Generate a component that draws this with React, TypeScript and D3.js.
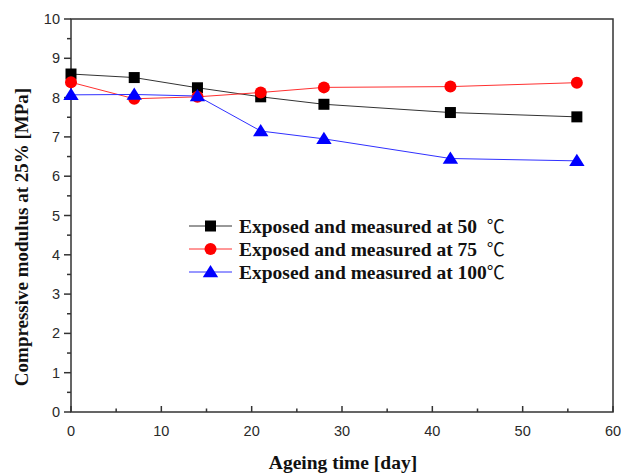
import React from "react";
import * as d3 from "d3";

const days = [0, 7, 14, 21, 28, 42, 56];
const s50 = [8.6, 8.51, 8.25, 8.02, 7.83, 7.62, 7.51];
const s75 = [8.39, 7.97, 8.02, 8.13, 8.26, 8.28, 8.38];
const s100 = [8.07, 8.08, 8.04, 7.15, 6.95, 6.45, 6.39];
const seriesNames = [
  "Exposed and measured at 50  \u2103",
  "Exposed and measured at 75  \u2103",
  "Exposed and measured at 100\u2103",
];
const xTicks = [0, 10, 20, 30, 40, 50, 60];
const yTicks = [0, 1, 2, 3, 4, 5, 6, 7, 8, 9, 10];

const W = 621, H = 474;
const L = 71, R = 613, T = 19, B = 412;

export default function App() {
  const x = d3.scaleLinear().domain([0, 60]).range([L, R]);
  const y = d3.scaleLinear().domain([0, 10]).range([B, T]);
  const line = d3.line<number>().x((_, i) => x(days[i])).y((v) => y(v));
  const series = [
    { vals: s50, color: "#000000", line: "#333333", shape: "square" },
    { vals: s75, color: "#ff0000", line: "#ff3030", shape: "circle" },
    { vals: s100, color: "#0000ff", line: "#3030ff", shape: "triangle" },
  ];
  const marker = (shape: string, cx: number, cy: number, color: string, key: string) => {
    if (shape === "square") return <rect key={key} x={cx - 5.5} y={cy - 5.5} width={11} height={11} fill={color} />;
    if (shape === "circle") return <circle key={key} cx={cx} cy={cy} r={6} fill={color} />;
    const s = 7;
    return <path key={key} d={`M${cx},${cy - s}L${cx + s * 1.1},${cy + s * 0.75}L${cx - s * 1.1},${cy + s * 0.75}Z`} fill={color} />;
  };
  const minorX = d3.range(5, 60, 10);
  const minorY = d3.range(0.5, 10, 1);
  const legendY = [226, 249, 272];
  const serif = "Liberation Serif, Times New Roman, serif";
  return (
    <svg width={W} height={H} style={{ position: "absolute", left: 0, top: 0, background: "#fff" }}>
      <rect x={0} y={0} width={W} height={H} fill="#fff" />
      <rect x={L} y={T} width={R - L} height={B - T} fill="none" stroke="#333" strokeWidth={1.5} />
      {xTicks.map((t) => (
        <g key={"xt" + t}>
          <line x1={x(t)} x2={x(t)} y1={B} y2={B - 6} stroke="#333" strokeWidth={1.5} />
          <text x={x(t)} y={B + 24} textAnchor="middle" fontFamily="Liberation Sans, Arial, sans-serif" fontSize={14.5} fill="#2a2a2a">{t}</text>
        </g>
      ))}
      {minorX.map((t) => (
        <line key={"xm" + t} x1={x(t)} x2={x(t)} y1={B} y2={B - 3.5} stroke="#333" strokeWidth={1.5} />
      ))}
      {yTicks.map((t) => (
        <g key={"yt" + t}>
          <line x1={L} x2={L - 7} y1={y(t)} y2={y(t)} stroke="#333" strokeWidth={1.5} />
          <text x={L - 11} y={y(t) + 5} textAnchor="end" fontFamily="Liberation Sans, Arial, sans-serif" fontSize={14.5} fill="#2a2a2a">{t}</text>
        </g>
      ))}
      {minorY.map((t) => (
        <line key={"ym" + t} x1={L} x2={L - 4} y1={y(t)} y2={y(t)} stroke="#333" strokeWidth={1.5} />
      ))}
      {series.map((s, si) => (
        <g key={"s" + si}>
          <path d={line(s.vals) || ""} fill="none" stroke={s.line} strokeWidth={1} />
          {s.vals.map((v, i) => marker(s.shape, x(days[i]), y(v), s.color, `m${si}-${i}`))}
        </g>
      ))}
      {series.map((s, si) => {
        const parts = seriesNames[si].split("\u2103");
        return (
          <g key={"lg" + si}>
            <line x1={189} x2={232} y1={legendY[si]} y2={legendY[si]} stroke={s.line} strokeWidth={1} />
            {marker(s.shape, 210.5, legendY[si], s.color, "lm" + si)}
            <text x={239} y={legendY[si] + 6.5} fontFamily={serif} fontWeight="bold" fontSize={19.5} fill="#111" style={{ whiteSpace: "pre" }}>
              {parts[0]}
              <tspan fontWeight="normal" fontFamily="Noto Sans CJK SC, sans-serif" fontSize={18}>{"\u2103"}</tspan>
            </text>
          </g>
        );
      })}
      <text x={343} y={469} textAnchor="middle" fontFamily={serif} fontWeight="bold" fontSize={19.5} fill="#111">Ageing time [day]</text>
      <text transform={`translate(28,237) rotate(-90)`} textAnchor="middle" fontFamily={serif} fontWeight="bold" fontSize={19} fill="#111">Compressive modulus at 25% [MPa]</text>
    </svg>
  );
}
